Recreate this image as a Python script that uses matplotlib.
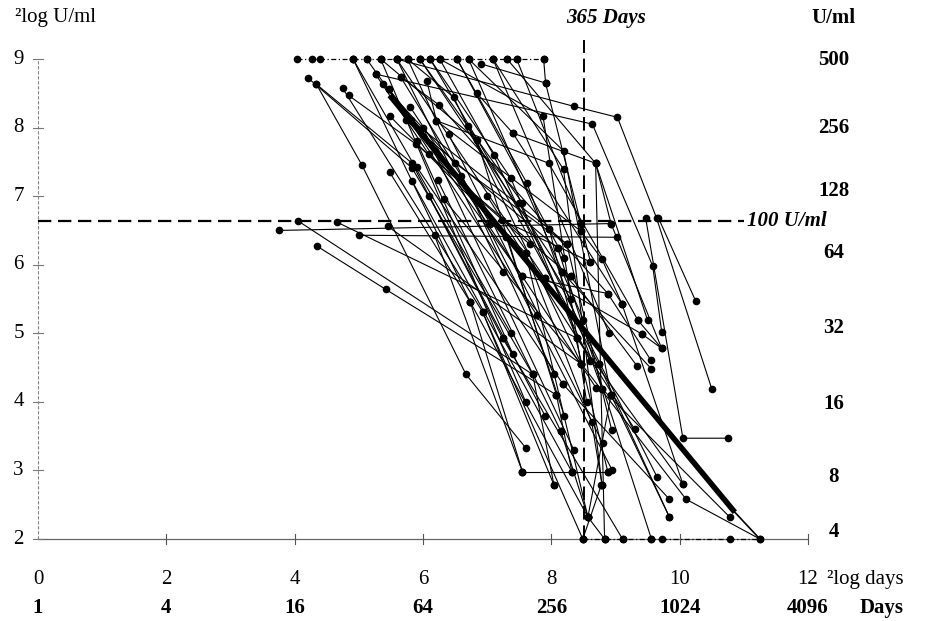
import numpy as np
import matplotlib
matplotlib.use("Agg")
import matplotlib.pyplot as plt

plt.rcParams['font.family'] = ['Liberation Serif', 'DejaVu Serif']

# log2(days) and log2(U/ml) for each patient
patient_days = [
    [5.12, 7.55], [5.34, 6.84, 8.08], [5.59, 7.90], [5.76, 6.48, 8.47], [5.95, 8.16],
    [6.11, 7.37, 8.40], [6.26, 7.87, 8.55], [6.53, 7.62, 8.79], [6.71, 8.19, 8.93],
    [7.09, 8.19, 8.79], [7.31, 8.69, 8.83], [7.46, 8.46], [7.88, 7.91, 8.61],
    [4.91, 6.74, 7.55], [5.59, 8.35, 9.03, 9.64, 10.50], [5.26, 8.64, 9.58, 9.72],
    [6.90, 7.91],
    [4.20, 5.83, 7.71], [4.34, 5.05, 6.67, 7.60], [4.34, 5.83, 7.24], [4.75, 6.93, 8.04],
    [4.84, 5.89, 8.30], [5.26, 6.09, 7.66], [5.37, 6.50, 8.24], [5.47, 7.77],
    [5.65, 6.25, 8.88], [5.48, 7.60, 8.57], [5.73, 8.10], [5.81, 7.97, 8.88],
    [5.48, 6.74], [5.90, 8.18], [5.83, 8.32], [6.06, 6.21, 8.46], [6.84, 7.40, 9.10],
    [6.70, 8.74], [6.23, 8.15], [6.32, 8.47], [6.21, 7.96, 9.35], [7.40, 8.69, 9.50],
    [8.69, 8.93, 9.72], [9.47, 10.05, 10.75], [9.67, 10.25],
    [3.75, 8.93], [4.05, 7.71], [4.66, 8.40], [5.45, 8.47], [5.00, 9.03],
    [4.35, 5.42, 8.08], [6.18, 7.55],
    [7.23, 8.61], [7.97, 8.24], [7.60, 8.63, 8.79], [8.10, 9.56], [8.24, 8.94],
    [8.46, 8.79, 9.10], [7.55, 8.88, 9.55], [7.90, 9.41], [8.16, 9.56], [8.30, 9.33],
    [6.74, 8.57], [6.93, 8.49], [7.24, 9.11], [8.40, 10.05], [8.47, 10.10, 11.25],
    [8.74, 9.84], [9.10, 10.05], [7.71, 8.04], [8.18, 9.84], [8.08, 8.32],
    [8.93, 9.84], [8.79, 10.78], [8.15, 8.57], [8.57, 8.83], [8.57, 8.93],
    [7.55, 8.32, 8.88], [8.78, 8.49], [9.35, 9.72, 9.41],
    [4.91, 7.37], [5.34, 7.60], [5.59, 7.24], [5.76, 8.04], [5.95, 7.55],
    [6.11, 8.30], [6.26, 7.10, 8.60], [6.53, 8.20], [6.71, 8.50], [7.09, 8.90],
    [5.47, 7.30, 8.20], [5.65, 7.05], [5.80, 8.70], [6.00, 8.35], [6.40, 8.80],
    [6.10, 7.90], [5.90, 7.40], [6.60, 8.95], [7.00, 9.30], [7.50, 9.65],
]
patient_titre = [
    [9.0, 5.83], [9.0, 7.82, 4.10], [9.0, 5.80], [9.0, 8.44, 4.55], [9.0, 5.90],
    [9.0, 7.26, 4.93], [9.0, 8.17, 4.00], [9.0, 7.19, 4.19], [9.0, 7.66, 4.10],
    [9.0, 7.39, 2.79], [9.0, 7.48, 2.00], [9.0, 6.60], [9.0, 8.65, 6.04],
    [9.0, 5.45, 2.98], [9.0, 8.31, 8.15, 6.68, 4.19], [8.78, 8.05, 5.98, 5.02],
    [8.93, 8.65],
    [8.73, 7.41, 4.40], [8.63, 7.45, 4.40, 3.33], [8.63, 7.48, 4.93], [8.57, 5.31, 2.79],
    [8.47, 7.76, 5.83], [8.78, 7.61, 6.30], [8.63, 7.48, 6.30], [8.56, 5.27],
    [8.74, 8.33, 5.58], [8.17, 6.17, 2.32], [8.11, 6.24], [8.11, 6.52, 2.98],
    [7.35, 5.45], [7.43, 4.26], [7.22, 2.98], [8.68, 8.10, 6.49], [8.50, 7.92, 5.43],
    [8.02, 4.55], [7.23, 3.57], [6.96, 4.55], [8.10, 7.48, 5.19], [7.92, 7.48, 5.19],
    [7.48, 6.60, 4.78], [6.68, 3.47, 3.47], [6.68, 5.47],
    [6.50, 6.60], [6.64, 4.40], [6.62, 4.93], [6.56, 4.55], [6.43, 6.40],
    [6.27, 5.64, 4.10], [6.43, 2.98],
    [6.65, 6.04], [6.52, 6.30], [6.17, 3.70, 2.79], [6.24, 2.00], [6.30, 3.59],
    [6.49, 6.08, 5.43], [5.83, 5.58, 4.61], [5.80, 4.99], [5.90, 4.48], [5.83, 4.53],
    [5.45, 2.32], [5.31, 2.00], [4.93, 2.00], [4.93, 2.80], [4.55, 2.58, 2.00],
    [4.55, 2.32], [5.43, 2.80], [4.40, 2.79], [4.26, 2.58], [4.10, 2.98],
    [4.10, 2.32], [4.19, 2.32], [3.57, 2.32], [2.32, 2.00], [2.32, 4.10],
    [2.98, 2.98, 2.98], [2.79, 2.00], [5.19, 4.78, 4.99],
    [9.0, 5.00], [9.0, 4.00], [9.0, 5.90], [9.0, 4.40], [9.0, 6.90],
    [9.0, 5.50], [9.0, 7.60, 4.60], [9.0, 6.10], [9.0, 5.20], [9.0, 5.00],
    [8.56, 6.40, 3.80], [8.74, 6.60], [8.30, 4.20], [8.00, 3.30], [7.90, 3.40],
    [7.00, 3.80], [7.80, 4.70], [7.30, 3.00], [7.00, 3.60], [6.90, 2.90],
]

# points at the 500 U/ml ceiling and 4 U/ml floor (log2 days)
ceiling_days = [4.03, 4.27, 4.39, 4.91, 5.12, 5.34, 5.59, 5.76, 5.95, 6.11, 6.26,
                6.53, 6.71, 7.09, 7.31, 7.46, 7.88]
floor_days = [8.49, 8.83, 9.11, 9.56, 9.72, 10.78, 11.25]

# regression line (log2 days, log2 U/ml)
fit_days = [5.48, 10.86]
fit_titre = [8.47, 2.39]

xticks = [0, 2, 4, 6, 8, 10, 12]
day_labels = ['1', '4', '16', '64', '256', '1024', '4096']
yticks = [2, 3, 4, 5, 6, 7, 8, 9]
right_labels = ['4', '8', '16', '32', '64', '128', '256', '500']
right_pos = [2.1, 2.91, 3.97, 5.07, 6.17, 7.08, 8.0, 8.99]

fig = plt.figure(figsize=(9.33, 6.21), dpi=100)
ax = fig.add_axes([38 / 933, 82 / 621, 770 / 933, 480 / 621])
ax.set_xlim(0, 12)
ax.set_ylim(2, 9)
for s in ['top', 'right', 'bottom', 'left']:
    ax.spines[s].set_visible(False)
ax.set_xticks([])
ax.set_yticks([])

# axes lines
ax.plot([0, 12], [2, 2], color='#666666', lw=0.9, clip_on=False)
ax.plot([0, 0], [2, 9], color='#888888', lw=0.8, ls=(0, (3, 1.5)), clip_on=False)
for xt in xticks[1:]:
    ax.plot([xt, xt], [1.93, 2.07], color='#555555', lw=0.8, clip_on=False)
for yt in yticks:
    ax.plot([-0.08, 0.08], [yt, yt], color='#777777', lw=0.8, clip_on=False)

# reference lines
ax.plot([0, 11.0], [np.log2(100)] * 2, color='black', lw=1.6,
        ls=(0, (6, 3)), clip_on=False)
ax.plot([np.log2(365)] * 2, [2, 9.28], color='black', lw=1.4,
        ls=(0, (7, 3)), clip_on=False)

for xs, ys in zip(patient_days, patient_titre):
    ax.plot(xs, ys, color='black', lw=0.8, marker='o', ms=4.5, clip_on=False)

ax.plot(ceiling_days, [9] * len(ceiling_days), color='black', lw=0.9,
        ls=(0, (4, 2, 1, 2)), marker='o', ms=4.5, clip_on=False)
ax.plot(floor_days, [2] * len(floor_days), color='black', lw=0.9,
        ls=(0, (4, 2, 1, 2)), marker='o', ms=4.5, clip_on=False)

ax.plot(fit_days, fit_titre, color='black', lw=4, solid_capstyle='butt')
ax.plot([fit_days[1], 11.25], [fit_titre[1], 2.0], color='black', lw=1.2)

# tick labels
for xt in xticks:
    ax.text(xt, 1.41, str(xt), ha='center', va='center', fontsize=15)
for xt, lab in zip(xticks, day_labels):
    ax.text(xt, 1.0, lab, ha='center', va='center', fontsize=15, fontweight='bold')
for yt in yticks:
    ax.text(-0.22, yt, str(yt), ha='right', va='center', fontsize=15)
for yp, lab in zip(right_pos, right_labels):
    ax.text(12.4, yp, lab, ha='center', va='center', fontsize=15, fontweight='bold')

ax.text(12.4, 9.6, 'U/ml', ha='center', va='center', fontsize=15, fontweight='bold')
ax.text(-0.36, 9.6, '\u00b2log U/ml', ha='left', va='center', fontsize=15)
ax.text(12.3, 1.41, '\u00b2log days', ha='left', va='center', fontsize=15)
ax.text(13.15, 1.0, 'Days', ha='center', va='center', fontsize=15, fontweight='bold')
ax.text(8.85, 9.6, '365 Days', ha='center', va='center', fontsize=15,
        fontweight='bold', style='italic')
ax.text(11.05, np.log2(100), '100 U/ml', ha='left', va='center', fontsize=15,
        fontweight='bold', style='italic')

fig.savefig('out.png', dpi=100)
